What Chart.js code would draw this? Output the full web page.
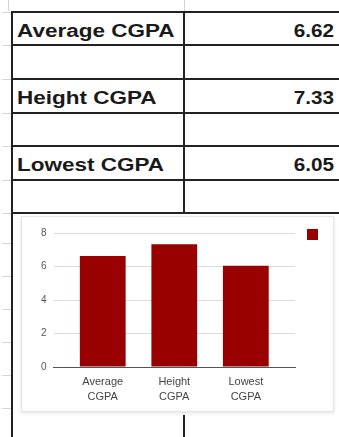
<!DOCTYPE html>
<html>
<head>
<meta charset="utf-8">
<script src="https://cdn.jsdelivr.net/npm/chart.js@4/dist/chart.umd.min.js"></script>
<style>
html,body{margin:0;padding:0;background:#fff;width:339px;height:437px;overflow:hidden;font-family:"Liberation Sans",Arial,sans-serif;}
.h{position:absolute;height:2px;background:#222;}
.v{position:absolute;width:2px;background:#222;}
.g{position:absolute;background:#d4d4d4;}
.cell{position:absolute;height:34px;line-height:39px;font-weight:bold;font-size:18px;color:#1a1a1a;white-space:nowrap;}
.cell span{display:inline-block;}
.lab{left:17px;}
.lab span{transform-origin:left center;transform:scaleX(1.25);}
.val{right:5px;text-align:right;}
.val span{transform-origin:right center;transform:scaleX(1.15);}
#panel{position:absolute;left:21px;top:216px;width:313px;height:196px;background:#fff;border:1px solid #e6e6e6;box-shadow:0 1px 3px rgba(0,0,0,0.12);box-sizing:border-box;}
#chartBox{position:absolute;left:21px;top:216px;width:313px;height:196px;}
</style>
</head>
<body>
<div id="grid"></div>
<div id="cells"></div>
<div id="panel"></div>
<div id="chartBox"><canvas id="c"></canvas></div>
<script>
// ---- data ----
const categories = ['Average CGPA', 'Height CGPA', 'Lowest CGPA'];
const values = [6.62, 7.33, 6.05];
const valueLabels = ['6.62', '7.33', '6.05'];
const yTicks = [0, 2, 4, 6, 8];

// ---- spreadsheet grid ----
const grid = document.getElementById('grid');
function add(cls, style) { const d = document.createElement('div'); d.className = cls; Object.assign(d.style, style); grid.appendChild(d); }
const rowLines = [11, 44, 78, 112, 145, 179, 212];
rowLines.forEach(y => add('h', {left: '11px', top: y + 'px', width: '328px'}));
add('v', {left: '11px', top: '11px', height: '426px'});
add('v', {left: '183px', top: '11px', height: '203px'});
add('v', {left: '183px', top: '415px', height: '22px'});
// faint header guides
add('g', {left: '8px', top: '0px', width: '1px', height: '11px'});
add('g', {left: '184px', top: '0px', width: '1px', height: '11px'});
[12, 45, 79, 113, 146, 180, 213, 243, 276, 309, 342, 375, 408].forEach(y => add('g', {left: '2px', top: y + 'px', width: '9px', height: '1px'}));

// ---- table cells ----
const cells = document.getElementById('cells');
const rowTops = [12, 79, 146];
categories.forEach((c, i) => {
  const l = document.createElement('div'); l.className = 'cell lab'; l.style.top = rowTops[i] + 'px';
  l.innerHTML = '<span>' + c + '</span>'; cells.appendChild(l);
  const v = document.createElement('div'); v.className = 'cell val'; v.style.top = rowTops[i] + 'px';
  v.innerHTML = '<span>' + valueLabels[i] + '</span>'; cells.appendChild(v);
});

// ---- chart ----
Chart.defaults.font.family = '"Liberation Sans", Arial, sans-serif';
new Chart(document.getElementById('c'), {
  type: 'bar',
  data: {
    datasets: [{
      label: '',
      data: values.map((v, i) => ({x: i, y: v})),
      backgroundColor: '#990000',
      borderWidth: 0,
      barPercentage: 0.64,
      categoryPercentage: 1
    }]
  },
  options: {
    responsive: true,
    maintainAspectRatio: false,
    animation: false,
    layout: {padding: {left: 13, right: 1, top: 1, bottom: 8}},
    plugins: {
      legend: {
        position: 'right',
        align: 'start',
        labels: {boxWidth: 11, boxHeight: 11, padding: 12, font: {size: 10}}
      },
      title: {display: true, text: '', fullSize: false, font: {size: 10, lineHeight: 1.2}, padding: {top: 0, bottom: 4}},
      tooltip: {enabled: false}
    },
    scales: {
      x: {
        type: 'linear',
        offset: false,
        min: -0.6875,
        max: categories.length - 1 + 0.6875,
        afterBuildTicks: s => { s.ticks = categories.map((c, i) => ({value: i})); },
        afterFit: s => { s.height = 37; },
        ticks: {
          autoSkip: false, maxRotation: 0, padding: 8,
          callback: (v, i) => categories[i].split(' '),
          font: {size: 11, lineHeight: 1.32}, color: '#444'
        },
        grid: {display: false, drawTicks: false, offset: false},
        border: {display: true, color: '#555', width: 1}
      },
      y: {
        min: 0, max: 8,
        afterBuildTicks: s => { s.ticks = yTicks.map(v => ({value: v})); },
        ticks: {padding: 7, font: {size: 10}, color: '#555'},
        grid: {color: '#dcdcdc', drawTicks: false},
        border: {display: false}
      }
    }
  }
});
</script>
</body>
</html>
